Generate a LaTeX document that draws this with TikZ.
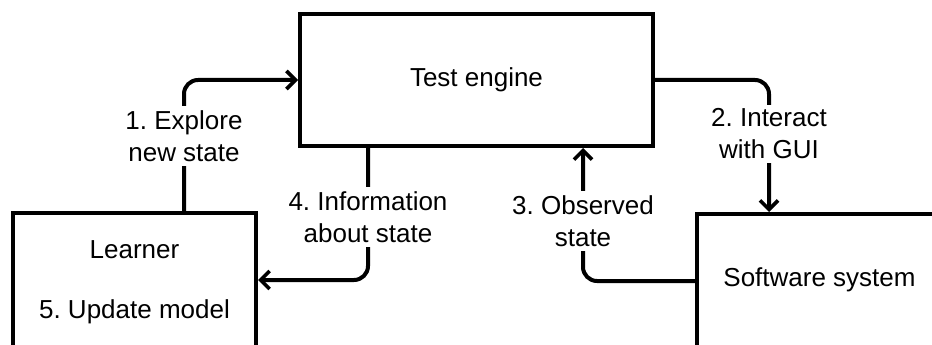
\documentclass[tikz,border=0pt]{standalone}
\usepackage{fontspec}
\setmainfont{Liberation Sans}
\usetikzlibrary{arrows.meta}
\frenchspacing
\begin{document}
\begin{tikzpicture}[x=1pt,y=-1pt,
  box/.style={draw=black, line width=4pt, rectangle, inner sep=0pt},
  txt/.style={font=\fontsize{26}{32}\selectfont, align=center, inner sep=0pt},
  lbl/.style={font=\fontsize{26}{32}\selectfont, align=center, fill=white, inner sep=4pt},
  conn/.style={line width=4pt, rounded corners=14pt, -{Straight Barb[length=9pt,width=18pt,line width=3.6pt]}}
]
\useasboundingbox (0,0) rectangle (932,345);
\clip (0,0) rectangle (932,345);
\fill[white] (0,0) rectangle (932,345);

\node[box, minimum width=353pt, minimum height=132pt] (test) at (476.5,80) {};
\node[txt] (testtxt) at (test.center) {Test engine};

\node[box, minimum width=243pt, minimum height=134pt] (learner) at (134.5,280) {};
\node[txt] (learnertxt) at (134.5,250) {Learner};
\node[txt] (updatetxt) at (134.5,312) {5. Update model};

\node[box, minimum width=245pt, minimum height=134pt] (soft) at (819.5,281) {};
\node[txt] (softtxt) at (819.5,280) {Software system};

\draw[conn] ([xshift=49.5pt]learner.north) |- (test.west);
\draw[conn] (test.east) -| ([xshift=-50.5pt]soft.north);
\draw[conn] (soft.west) -| ([xshift=106.5pt]test.south);
\draw[conn] ([xshift=-108.5pt]test.south) |- (learner.east);

\node[lbl] (l1) at (184,136) {1. Explore\\new state};
\node[lbl] (l2) at (769,134) {2. Interact\\with GUI};
\node[lbl] (l3) at (583,221) {3. Observed\\state};
\node[lbl] (l4) at (368,217) {4. Information\\about state};
\end{tikzpicture}
\end{document}
